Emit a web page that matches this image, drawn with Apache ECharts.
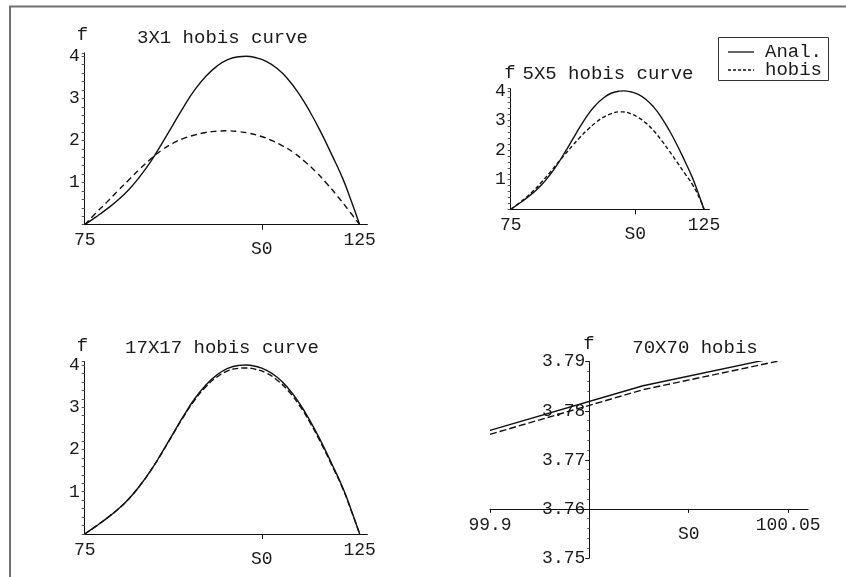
<!DOCTYPE html>
<html><head><meta charset="utf-8">
<script src="https://cdn.jsdelivr.net/npm/echarts@6/dist/echarts.min.js"></script>
<style>html,body{margin:0;padding:0;background:#fff}#c{width:846px;height:577px}</style>
</head><body><div id="c"></div>
<script>
// ---------- data ----------
// analytic solution (same curve in the three full-range panels)
const sAnal = [75, 77, 79, 81, 83, 85, 87, 89, 91, 93, 95, 97, 99, 101, 103, 104.3, 106, 108, 110, 112, 114, 116, 118, 120, 122, 123.5, 125];
const fAnal = [0, 0.18, 0.37, 0.58, 0.83, 1.14, 1.5, 1.92, 2.36, 2.8, 3.2, 3.52, 3.76, 3.92, 3.99, 4.0, 3.97, 3.88, 3.71, 3.45, 3.1, 2.67, 2.18, 1.64, 1.07, 0.55, 0];
// 3X1 hobis
const s3x1 = [75, 77, 79, 81, 83, 85, 87, 89, 91, 93, 95, 97, 99, 101, 103, 105, 107, 109, 111, 113, 115, 117, 119, 121, 123, 125];
const f3x1 = [0, 0.27, 0.53, 0.8, 1.06, 1.32, 1.56, 1.77, 1.93, 2.05, 2.13, 2.19, 2.22, 2.23, 2.21, 2.17, 2.1, 2.0, 1.87, 1.71, 1.5, 1.26, 0.98, 0.67, 0.34, 0];
// 5X5 hobis
const s5x5 = [75, 77, 79, 81, 83, 85, 87, 89, 91, 93, 95, 97, 99, 101, 103, 104, 106, 108, 110, 112, 114, 116, 118, 120, 122, 124, 125];
const f5x5 = [0, 0.19, 0.4, 0.64, 0.92, 1.22, 1.54, 1.85, 2.15, 2.44, 2.7, 2.93, 3.11, 3.23, 3.29, 3.29, 3.23, 3.1, 2.91, 2.65, 2.33, 1.97, 1.6, 1.22, 0.84, 0.33, 0];
// 17X17 hobis
const s17 = [75, 77, 79, 81, 83, 85, 87, 89, 91, 93, 95, 97, 99, 101, 103, 104.3, 106, 108, 110, 112, 114, 116, 118, 120, 122, 123.5, 125];
const f17 = [0, 0.18, 0.37, 0.58, 0.83, 1.14, 1.5, 1.91, 2.35, 2.78, 3.17, 3.48, 3.71, 3.86, 3.92, 3.93, 3.9, 3.81, 3.64, 3.39, 3.05, 2.63, 2.14, 1.61, 1.05, 0.54, 0];
// 70X70 zoomed panel
const sZoom = [99.9, 99.977, 100.06];
const fZoomAnal = [3.7760, 3.7851, 3.7922];
const fZoomHobis = [3.7752, 3.7843, 3.7914];
// ticks
const xTickVals = [75, 125];
const s0Val = 107.2;
const yTickVals = [1, 2, 3, 4];
const zoomXTickVals = [99.9, 100.05];
const zoomS0 = 100;
const zoomYTickVals = [3.75, 3.76, 3.77, 3.78, 3.79];
const titles = ['3X1 hobis curve', '5X5 hobis curve', '17X17 hobis curve', '70X70 hobis'];
const names = ['Anal.', 'hobis'];

// ---------- chart ----------
const FONT = 'Liberation Mono';
const TXT = {fontFamily: FONT, fontSize: 18, color: '#1a1a1a'};
const INK = '#111';
const zip = (a, b) => a.map((v, i) => [v, b[i]]);

const grids = [
  {left: 84.7, top: 52.9, width: 282.7, height: 171.8},
  {left: 510.7, top: 88.5, width: 198.7, height: 120.8},
  {left: 84.7, top: 361.6, width: 282.7, height: 172.4},
  {left: 490, top: 361.7, width: 318, height: 196.3}
];

function curveX(i) {
  return {
    type: 'value', gridIndex: i, min: 75, max: 126.4,
    axisLine: {onZero: false, lineStyle: {color: INK, width: 1}},
    splitLine: {show: false},
    axisTick: {show: true, customValues: [s0Val], length: 5, lineStyle: {color: INK}},
    axisLabel: {
      customValues: xTickVals.concat([s0Val]), margin: 7, ...TXT,
      formatter: v => Math.abs(v - s0Val) < 1e-6 ? '{s|S0}' : String(v),
      rich: {s: {...TXT, padding: [9, 0, 0, 0]}}
    }
  };
}
function curveY(i) {
  return {
    type: 'value', gridIndex: i, min: 0, max: 4.08, interval: 0.2,
    axisLine: {show: true, onZero: false, lineStyle: {color: INK, width: 1}},
    splitLine: {show: false},
    axisTick: {show: true, length: 3, lineStyle: {color: '#555'}},
    axisLabel: {customValues: yTickVals, margin: 5, ...TXT, formatter: v => String(Math.round(v))}
  };
}

const xAxes = [curveX(0), curveX(1), curveX(2), {
  type: 'value', gridIndex: 3, min: 99.9, max: 100.06, interval: 0.05, offset: -49.1,
  axisLine: {onZero: false, lineStyle: {color: INK, width: 1}},
  splitLine: {show: false},
  axisTick: {show: true, customValues: zoomXTickVals.concat([zoomS0]), length: 4, lineStyle: {color: INK}},
  axisLabel: {
    customValues: zoomXTickVals.concat([zoomS0]), margin: 7, ...TXT,
    formatter: v => Math.abs(v - zoomS0) < 1e-9 ? '{s|S0}' : String(v),
    rich: {s: {...TXT, padding: [9, 0, 0, 0]}}
  }
}];
const yAxes = [curveY(0), curveY(1), curveY(2), {
  type: 'value', gridIndex: 3, min: 3.75, max: 3.79, interval: 0.01, offset: -99.3,
  axisLine: {show: true, onZero: false, lineStyle: {color: INK, width: 1}},
  splitLine: {show: false},
  axisTick: {show: true, length: 4, lineStyle: {color: INK}},
  minorTick: {show: true, splitNumber: 5, length: 2, lineStyle: {color: '#555'}},
  axisLabel: {customValues: zoomYTickVals, margin: 4, ...TXT, formatter: v => v.toFixed(2)}
}];

const solid = {color: INK, width: 1.4, type: 'solid'};
const dashed = d => ({color: INK, width: 1.4, type: d});
function line(name, i, xs, ys, style, smooth) {
  return {name, type: 'line', xAxisIndex: i, yAxisIndex: i, data: zip(xs, ys),
    symbol: 'none', showSymbol: false, smooth, lineStyle: style, itemStyle: {color: INK},
    clip: true, silent: true};
}
const series = [
  line(names[0], 0, sAnal, fAnal, solid, 0.5),
  line(names[1], 0, s3x1, f3x1, dashed([6, 4]), 0.5),
  line(names[0], 1, sAnal, fAnal, solid, 0.5),
  line(names[1], 1, s5x5, f5x5, dashed([4, 2.5]), 0.5),
  line(names[0], 2, sAnal, fAnal, solid, 0.5),
  line(names[1], 2, s17, f17, dashed([6, 3]), 0.5),
  line(names[0], 3, sZoom, fZoomAnal, solid, false),
  line(names[1], 3, sZoom, fZoomHobis, dashed([7, 3]), false)
];

const textEl = (x, y, t, align) => ({type: 'text', x, y, style: {text: t, font: '19px "Liberation Mono"', fill: '#1a1a1a', align: align || 'center', verticalAlign: 'middle'}});
const graphic = [
  {type: 'polyline', shape: {points: [[10, 577], [10, 6.5], [846, 6.5]]}, style: {stroke: '#707070', lineWidth: 2, fill: null}},
  textEl(82.5, 35, 'f'), textEl(222.5, 38, titles[0]),
  textEl(510, 73, 'f'), textEl(608, 74, titles[1]),
  textEl(82.5, 346, 'f'), textEl(222, 348, titles[2]),
  textEl(589, 344, 'f'), textEl(695, 348, titles[3]),
  // legend box
  {type: 'rect', shape: {x: 718.5, y: 37.5, width: 110, height: 43}, style: {stroke: '#333', lineWidth: 1, fill: '#fff'}},
  {type: 'line', shape: {x1: 728, y1: 52, x2: 754, y2: 52}, style: {stroke: INK, lineWidth: 1.3}},
  {type: 'line', shape: {x1: 728, y1: 70, x2: 754, y2: 70}, style: {stroke: INK, lineWidth: 1.3, lineDash: [3, 2]}},
  textEl(765, 52, names[0], 'left'), textEl(765, 70, names[1], 'left')
];

const chart = echarts.init(document.getElementById('c'), null, {renderer: 'canvas'});
chart.setOption({
  animation: false,
  backgroundColor: '#fff',
  grid: grids,
  xAxis: xAxes,
  yAxis: yAxes,
  series,
  graphic
});
</script></body></html>
